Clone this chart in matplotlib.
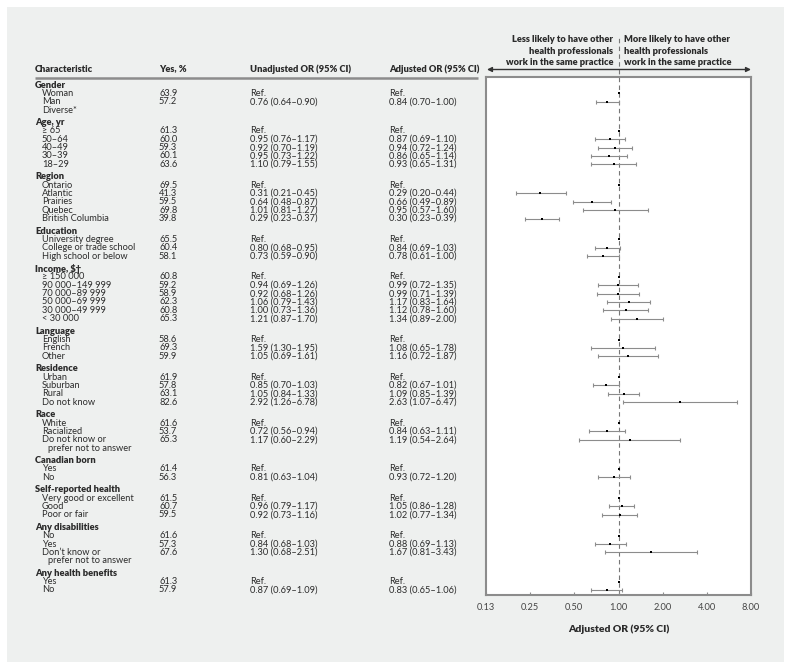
#forest plot: odds of having other health professionals in the same practice
import matplotlib
matplotlib.use('Agg')
import matplotlib.pyplot as plt
from matplotlib.patches import Rectangle
import numpy as np

plt.rcParams['font.family'] = ['Lato', 'DejaVu Sans']

#table data, one entry per row (None = no estimate / reference category)
groups = ['Gender', 'Age, yr', 'Region', 'Education', 'Income, $\u2020', 'Language',
          'Residence', 'Race', 'Canadian born', 'Self-reported health',
          'Any disabilities', 'Any health benefits']
labels = [
    ['Woman', 'Man', 'Diverse*'],
    ['\u2265 65', '50\u201364', '40\u201349', '30\u201339', '18\u201329'],
    ['Ontario', 'Atlantic', 'Prairies', 'Quebec', 'British Columbia'],
    ['University degree', 'College or trade school', 'High school or below'],
    ['\u2265 150 000', '90 000\u2013149 999', '70 000\u201389 999', '50 000\u201369 999',
     '30 000\u201349 999', '< 30 000'],
    ['English', 'French', 'Other'],
    ['Urban', 'Suburban', 'Rural', 'Do not know'],
    ['White', 'Racialized', 'Do not know or\nprefer not to answer'],
    ['Yes', 'No'],
    ['Very good or excellent', 'Good', 'Poor or fair'],
    ['No', 'Yes', 'Don\u2019t know or\nprefer not to answer'],
    ['Yes', 'No'],
]
yes_pct = [
    [63.9, 57.2, None],
    [61.3, 60.0, 59.3, 60.1, 63.6],
    [69.5, 41.3, 59.5, 69.8, 39.8],
    [65.5, 60.4, 58.1],
    [60.8, 59.2, 58.9, 62.3, 60.8, 65.3],
    [58.6, 69.3, 59.9],
    [61.9, 57.8, 63.1, 82.6],
    [61.6, 53.7, 65.3],
    [61.4, 56.3],
    [61.5, 60.7, 59.5],
    [61.6, 57.3, 67.6],
    [61.3, 57.9],
]
# (OR, lower, upper); 'ref' = reference category
unadj = [
    ['ref', (0.76, 0.64, 0.90), None],
    ['ref', (0.95, 0.76, 1.17), (0.92, 0.70, 1.19), (0.95, 0.73, 1.22), (1.10, 0.79, 1.55)],
    ['ref', (0.31, 0.21, 0.45), (0.64, 0.48, 0.87), (1.01, 0.81, 1.27), (0.29, 0.23, 0.37)],
    ['ref', (0.80, 0.68, 0.95), (0.73, 0.59, 0.90)],
    ['ref', (0.94, 0.69, 1.26), (0.92, 0.68, 1.26), (1.06, 0.79, 1.43), (1.00, 0.73, 1.36),
     (1.21, 0.87, 1.70)],
    ['ref', (1.59, 1.30, 1.95), (1.05, 0.69, 1.61)],
    ['ref', (0.85, 0.70, 1.03), (1.05, 0.84, 1.33), (2.92, 1.26, 6.78)],
    ['ref', (0.72, 0.56, 0.94), (1.17, 0.60, 2.29)],
    ['ref', (0.81, 0.63, 1.04)],
    ['ref', (0.96, 0.79, 1.17), (0.92, 0.73, 1.16)],
    ['ref', (0.84, 0.68, 1.03), (1.30, 0.68, 2.51)],
    ['ref', (0.87, 0.69, 1.09)],
]
adj = [
    ['ref', (0.84, 0.70, 1.00), None],
    ['ref', (0.87, 0.69, 1.10), (0.94, 0.72, 1.24), (0.86, 0.65, 1.14), (0.93, 0.65, 1.31)],
    ['ref', (0.29, 0.20, 0.44), (0.66, 0.49, 0.89), (0.95, 0.57, 1.60), (0.30, 0.23, 0.39)],
    ['ref', (0.84, 0.69, 1.03), (0.78, 0.61, 1.00)],
    ['ref', (0.99, 0.72, 1.35), (0.99, 0.71, 1.39), (1.17, 0.83, 1.64), (1.12, 0.78, 1.60),
     (1.34, 0.89, 2.00)],
    ['ref', (1.08, 0.65, 1.78), (1.16, 0.72, 1.87)],
    ['ref', (0.82, 0.67, 1.01), (1.09, 0.85, 1.39), (2.63, 1.07, 6.47)],
    ['ref', (0.84, 0.63, 1.11), (1.19, 0.54, 2.64)],
    ['ref', (0.93, 0.72, 1.20)],
    ['ref', (1.05, 0.86, 1.28), (1.02, 0.77, 1.34)],
    ['ref', (0.88, 0.69, 1.13), (1.67, 0.81, 3.43)],
    ['ref', (0.83, 0.65, 1.06)],
]
col_heads = ['Characteristic', 'Yes, %', 'Unadjusted OR (95% CI)', 'Adjusted OR (95% CI)']
xticks = [0.125, 0.25, 0.5, 1, 2, 4, 8]
xticklabels = ['0.13', '0.25', '0.50', '1.00', '2.00', '4.00', '8.00']

W, H = 791, 669
TXT = '#2b2b2b'
GRAY = '#8c8c8c'
fs = 6.7

def fmt(v):
    if v is None:
        return ''
    if v == 'ref':
        return 'Ref.'
    return '%.2f (%.2f\u2013%.2f)' % v

fig = plt.figure(figsize=(W/100., H/100.), dpi=100)
fig.patch.set_facecolor('white')

#overlay in pixel coords for the table
bg = fig.add_axes([0, 0, 1, 1])
bg.set_xlim(0, W)
bg.set_ylim(H, 0)
bg.axis('off')
bg.add_patch(Rectangle((7, 7), 777, 655, facecolor='#eef0ef', edgecolor='none', zorder=0))

colx = [35, 159, 250, 389]
for x, t in zip(colx, col_heads):
    bg.text(x, 69, t, fontsize=fs, fontweight='heavy', color=TXT, va='center')
bg.plot([35, 478], [77.5, 77.5], color=GRAY, lw=1.8, solid_capstyle='butt')

#row layout
step = 8.35
gap = 12.5
y = 85
pts = []
for gi, g in enumerate(groups):
    bg.text(35, y, g, fontsize=fs, fontweight='heavy', color=TXT, va='center')
    y += step
    for li, lab in enumerate(labels[gi]):
        parts = lab.split('\n')
        bg.text(42, y, parts[0], fontsize=fs, color=TXT, va='center')
        if yes_pct[gi][li] is not None:
            bg.text(colx[1], y, '%.1f' % yes_pct[gi][li], fontsize=fs, color=TXT, va='center')
        bg.text(colx[2], y, fmt(unadj[gi][li]), fontsize=fs, color=TXT, va='center')
        bg.text(colx[3], y, fmt(adj[gi][li]), fontsize=fs, color=TXT, va='center')
        if adj[gi][li] is not None:
            pts.append((y, adj[gi][li]))
        for extra in parts[1:]:
            y += step
            bg.text(48, y, extra, fontsize=fs, color=TXT, va='center')
        y += step
    y += gap - step

#direction arrow and labels
bg.annotate('', xy=(751, 69.5), xytext=(487, 69.5),
            arrowprops=dict(arrowstyle='<|-|>', color='#333333', lw=1.0,
                            mutation_scale=7, shrinkA=0, shrinkB=0))
bg.text(613, 51, 'Less likely to have other\nhealth professionals\nwork in the same practice',
        fontsize=fs, fontweight='heavy', color=TXT, ha='right', va='center', linespacing=1.3)
bg.text(624, 51, 'More likely to have other\nhealth professionals\nwork in the same practice',
        fontsize=fs, fontweight='heavy', color=TXT, ha='left', va='center', linespacing=1.3)

#forest plot
ax = fig.add_axes([486./W, 1-595./H, 265./W, 518./H])
ax.set_facecolor('white')
ax.set_xscale('log', base=2)
ax.set_xlim(0.125, 8)
ax.set_ylim(595, 77)
ax.plot([1, 1], [595, 35], color='#777777', lw=0.8, ls=(0, (4, 3)), clip_on=False, zorder=1)

for yy, v in pts:
    if v == 'ref':
        ax.plot(1, yy, 's', color='black', ms=1.8, mew=0, zorder=3)
    else:
        orv, lo, hi = v
        ax.errorbar(orv, yy, xerr=[[orv-lo], [hi-orv]], fmt='none', ecolor=GRAY,
                    elinewidth=0.8, capsize=1.6, capthick=0.8, zorder=2)
        ax.plot(orv, yy, 's', color='black', ms=1.8, mew=0, zorder=3)

ax.set_xticks(xticks)
ax.set_xticklabels(xticklabels)
ax.minorticks_off()
ax.tick_params(axis='x', direction='in', length=2.5, color=GRAY, labelsize=fs, labelcolor='#444444', pad=6)
ax.set_yticks([])
for s in ax.spines.values():
    s.set_color(GRAY)
    s.set_linewidth(1.5)
ax.set_xlabel('Adjusted OR (95% CI)', fontsize=7.5, fontweight='heavy', color=TXT, labelpad=9)

fig.savefig('out.png', dpi=100, facecolor=fig.get_facecolor())
